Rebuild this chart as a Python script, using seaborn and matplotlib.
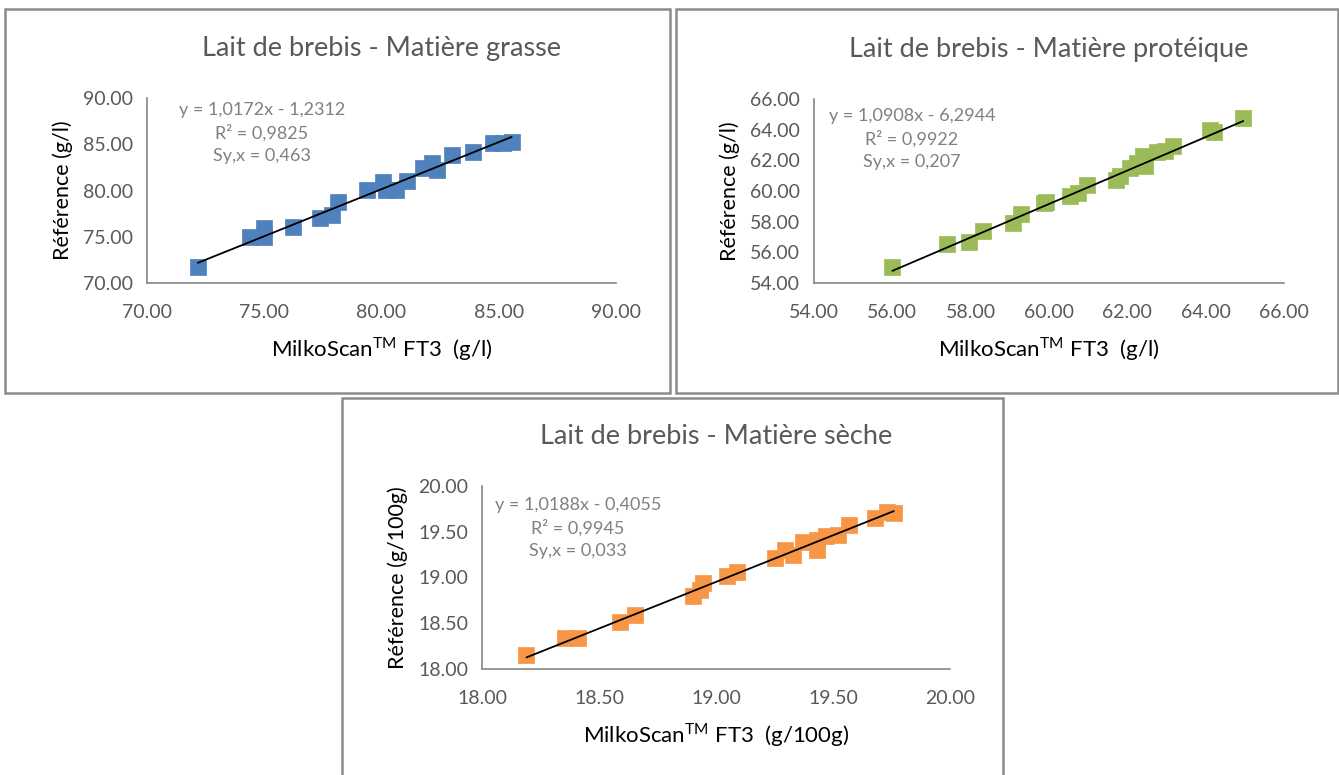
import seaborn as sns
import matplotlib.pyplot as plt
import matplotlib.patches as mpatches
import numpy as np
import pandas as pd

# Matière grasse (g/l)
mg_x = [72.17, 74.39, 75.0, 75.0, 76.24, 77.38, 77.88, 78.16, 79.37, 80.08, 80.2, 80.6,
        81.07, 81.78, 82.14, 82.35, 83.0, 83.92, 84.77, 85.2, 85.55]
mg_y = [71.76, 75.0, 75.0, 76.0, 76.09, 77.06, 77.35, 78.8, 80.05, 80.95, 80.05, 80.1,
        81.06, 82.4, 82.94, 82.2, 83.84, 84.2, 85.1, 85.17, 85.27]

# Matière protéique (g/l)
mp_x = [56.0, 57.39, 57.97, 58.31, 59.07, 59.28, 59.88, 59.93, 60.54, 60.75, 60.96, 61.71,
        61.81, 62.07, 62.24, 62.41, 62.45, 62.75, 62.96, 63.17, 64.11, 64.2, 64.96]
mp_y = [55.06, 56.55, 56.7, 57.38, 57.89, 58.5, 59.2, 59.3, 59.68, 59.86, 60.41, 60.7,
        60.96, 61.5, 61.83, 62.27, 61.6, 62.53, 62.64, 62.92, 64.0, 63.85, 64.76]

# Matière sèche (g/100g)
ms_x = [18.19, 18.356, 18.41, 18.59, 18.655, 18.90, 18.93, 18.946, 19.046, 19.09, 19.25,
        19.295, 19.33, 19.373, 19.43, 19.43, 19.47, 19.52, 19.57, 19.68, 19.73, 19.76]
ms_y = [18.156, 18.34, 18.34, 18.51, 18.585, 18.80, 18.865, 18.94, 19.02, 19.065, 19.21,
        19.30, 19.25, 19.39, 19.41, 19.30, 19.45, 19.465, 19.575, 19.65, 19.72, 19.70]

charts = [
    dict(x=mg_x, y=mg_y, a=1.0172, b=-1.2312, r2="0,9825", syx="0,463",
         eq="y = 1,0172x - 1,2312", title="Lait de brebis - Matière grasse",
         unit="(g/l)", lim=(70, 90), step=5, color="#4F81BD",
         pos=[147, 98, 616, 283], panel=[5, 9, 670, 393], eqpos=(262, 102)),
    dict(x=mp_x, y=mp_y, a=1.0908, b=-6.2944, r2="0,9922", syx="0,207",
         eq="y = 1,0908x - 6,2944", title="Lait de brebis - Matière protéique",
         unit="(g/l)", lim=(54, 66), step=2, color="#9BBB59",
         pos=[814, 99, 1284, 283], panel=[676, 9, 1338, 393], eqpos=(912, 108)),
    dict(x=ms_x, y=ms_y, a=1.0188, b=-0.4055, r2="0,9945", syx="0,033",
         eq="y = 1,0188x - 0,4055", title="Lait de brebis - Matière sèche",
         unit="(g/100g)", lim=(18, 20), step=0.5, color="#F79646",
         pos=[482, 486, 950, 669], panel=[342, 398, 1003, 790], eqpos=(578, 497)),
]

sns.set_style("white")
plt.rcParams["font.family"] = ["Lato", "DejaVu Sans"]

W, H = 1339, 775
fig = plt.figure(figsize=(W / 100, H / 100), dpi=100)
grey = "#868686"

for c in charts:
    # cadre du graphique
    x0, y0, x1, y1 = c["panel"]
    fig.patches.append(mpatches.Rectangle((x0 / W, 1 - y1 / H), (x1 - x0) / W, (y1 - y0) / H,
                                          transform=fig.transFigure, fill=False,
                                          edgecolor="#8c8c8c", linewidth=1.8))
    l, t, r, b = c["pos"]
    ax = fig.add_axes([l / W, 1 - b / H, (r - l) / W, (b - t) / H])
    df = pd.DataFrame({"x": c["x"], "y": c["y"]})
    sns.scatterplot(data=df, x="x", y="y", ax=ax, marker="s", s=130, color=c["color"],
                    edgecolor=c["color"], linewidth=0.5, zorder=2)
    xs = np.array([min(c["x"]), max(c["x"])])
    ax.plot(xs, c["a"] * xs + c["b"], color="black", linewidth=1.3, zorder=3)

    lo, hi = c["lim"]
    ticks = np.arange(lo, hi + c["step"] / 2, c["step"])
    ax.set_xlim(lo, hi)
    ax.set_ylim(lo, hi)
    ax.set_xticks(ticks)
    ax.set_yticks(ticks)
    ax.set_xticklabels([f"{v:.2f}" for v in ticks])
    ax.set_yticklabels([f"{v:.2f}" for v in ticks])
    ax.tick_params(colors="#595959", labelsize=14, length=5, width=1.2, direction="out",
                   pad=5)
    ax.tick_params(axis="x", pad=10)
    for s in ["top", "right"]:
        ax.spines[s].set_visible(False)
    for s in ["left", "bottom"]:
        ax.spines[s].set_color(grey)
        ax.spines[s].set_linewidth(1.2)
    ax.set_xlabel("MilkoScan$^{\\mathregular{TM}}$ FT3  " + c["unit"], fontsize=16,
                  color="black", labelpad=10)
    ax.set_ylabel("Référence " + c["unit"], fontsize=15.5, color="black", labelpad=7)
    ax.set_title(c["title"], fontsize=19.5, color="#595959", pad=30)

    ex, ey = c["eqpos"]
    fig.text(ex / W, 1 - ey / H,
             c["eq"] + "\nR² = " + c["r2"] + "\nSy,x = " + c["syx"],
             ha="center", va="top", fontsize=13, color="#808080", linespacing=1.45)

fig.savefig("out.png", dpi=100)
